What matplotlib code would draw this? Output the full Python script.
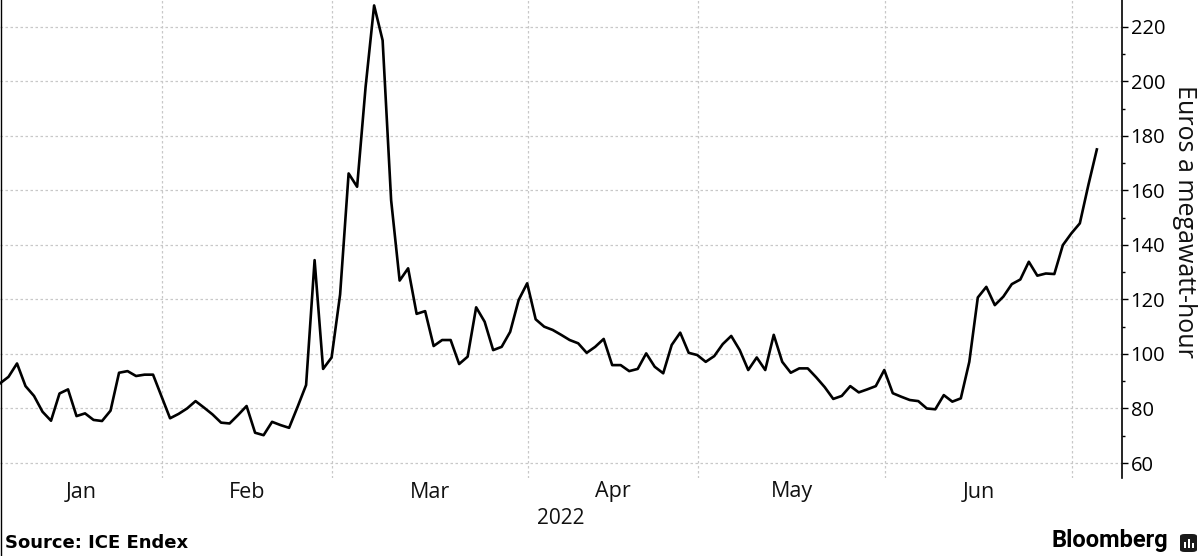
import matplotlib
matplotlib.use("Agg")
import matplotlib.pyplot as plt
import numpy as np
import pandas as pd
from matplotlib.transforms import blended_transform_factory
from matplotlib.patches import FancyBboxPatch, Rectangle
from matplotlib.lines import Line2D

# ---------------- data ----------------
start_date = "2022-01-04"
end_date = "2022-07-05"
holidays = ["2022-04-15"]

prices = [
    89.2, 91.6, 96.5, 88.2, 84.6, 78.8, 75.5, 85.5, 87.0, 77.2,
    78.2, 75.8, 75.4, 79.2, 93.1, 93.7, 91.9, 92.4, 92.4, 84.4,
    76.4, 78.0, 80.0, 82.7, 80.3, 77.8, 74.8, 74.5, 77.6, 80.9,
    71.1, 70.2, 75.1, 73.9, 72.9, 80.6, 88.6, 134.4, 94.5, 98.7,
    121.8, 166.2, 161.3, 198.0, 227.8, 215.0, 156.4, 126.9, 131.4, 114.7,
    115.7, 102.9, 105.1, 105.1, 96.3, 99.0, 117.1, 111.8, 101.4, 102.6,
    108.1, 119.8, 125.9, 112.7, 110.0, 108.8, 107.0, 105.1, 103.9, 100.4,
    102.6, 105.5, 95.9, 95.9, 93.7, 94.5, 100.2, 95.3, 92.9, 103.3,
    107.8, 100.4, 99.6, 97.1, 99.2, 103.6, 106.6, 101.4, 94.1, 98.7,
    94.1, 107.0, 97.1, 93.1, 94.7, 94.7, 91.4, 87.8, 83.5, 84.6,
    88.2, 85.9, 87.0, 88.2, 94.1, 85.6, 84.3, 83.1, 82.7, 80.0,
    79.7, 84.9, 82.5, 83.7, 97.1, 120.7, 124.6, 117.9, 121.0, 125.6,
    127.3, 133.8, 128.7, 129.5, 129.3, 139.9, 144.2, 147.9, 161.9, 175.0,
]

y_ticks = [60, 80, 100, 120, 140, 160, 180, 200, 220]
y_minor = [70, 90, 110, 130, 150, 170, 190, 210]
year_label = "2022"
y_axis_label = "Euros a megawatt-hour"
source_text = "Source: ICE Endex"
brand_text = "Bloomberg"

# ---------------- build ----------------
dates = pd.bdate_range(start_date, end_date)
dates = dates[~dates.isin(pd.to_datetime(holidays))]
x = np.arange(len(dates))

W, H = 1202, 556
fig = plt.figure(figsize=(W / 100, H / 100), dpi=100)
ax = fig.add_axes([0, 78 / H, 1121.5 / W, 478 / H])

ax.plot(x, prices, color="black", lw=1.9, solid_joinstyle="round", zorder=3)

xmin, xmax = 0, 131.9
ax.set_xlim(xmin, xmax)
ax.set_ylim(54.5, 229.8)

# spines
for s in ["left", "top", "bottom"]:
    ax.spines[s].set_visible(False)
ax.spines["right"].set_color("black")
ax.spines["right"].set_linewidth(1.2)

# y axis on right
ax.yaxis.tick_right()
ax.set_yticks(y_ticks)
ax.set_yticks(y_minor, minor=True)
ax.tick_params(axis="y", which="major", length=4.5, width=1.0, direction="out",
               pad=2, labelsize=14.5, colors="black")
ax.tick_params(axis="y", which="minor", length=2.5, width=1.0, direction="out")
for lab in ax.get_yticklabels():
    lab.set_fontfamily("Open Sans")
ax.set_xticks([])

grid_kw = dict(color="#c8c8c8", linestyle=(0, (2, 2)), lw=0.9, zorder=1)
ax.grid(axis="y", which="major", **grid_kw)

# month boundaries from dates
month_first = []
month_names = []
for (yy, mm), grp in pd.Series(x, index=dates).groupby([dates.year, dates.month]):
    month_first.append(grp.iloc[0])
    month_names.append(grp.index[0].strftime("%b"))

bounds = [f - 0.9 for f in month_first]
for b in bounds[1:]:
    ax.axvline(b, **grid_kw)

trans = blended_transform_factory(ax.transData, fig.transFigure)
for k, name in enumerate(month_names):
    lo = max(bounds[k], xmin) if k > 0 else xmin
    hi = min(bounds[k + 1], xmax) if k + 1 < len(bounds) else xmax
    if hi - lo > 10:
        ax.text((lo + hi) / 2, 1 - 492 / H, name, transform=trans, ha="center",
                va="center", fontsize=15.5, family="Open Sans", color="#111111")

fig.text(0.5 * 1121.5 / W, 1 - 518 / H, year_label, ha="center", va="center",
         fontsize=15, family="Open Sans", color="#111111")

fig.text(1185 / W, 1 - 221 / H, y_axis_label, rotation=270, ha="center",
         va="center", fontsize=18, family="Open Sans", color="#111111")

fig.text(5 / W, 1 - 543 / H, source_text, ha="left", va="center",
         fontsize=13, fontweight="bold", family="DejaVu Sans", color="black")

fig.text(1168 / W, 1 - 540 / H, brand_text, ha="right", va="center",
         fontsize=17, fontweight="bold", family="Roboto", color="black")

# brand icon
ix0, iy0, iw, ih = 1180 / W, 1 - 552 / H, 17 / W, 18 / H
icon = FancyBboxPatch((ix0, iy0), iw, ih, boxstyle="round,pad=0,rounding_size=0.004",
                      transform=fig.transFigure, facecolor="#1a1a1a", edgecolor="none")
fig.add_artist(icon)
for bx, bh in [(1184, 6), (1188, 9), (1192, 5)]:
    fig.add_artist(Rectangle((bx / W, 1 - 548 / H), 2 / W, bh / H,
                             transform=fig.transFigure, facecolor="white",
                             edgecolor="none"))

# left border line
fig.add_artist(Line2D([0.6 / W, 0.6 / W], [0, 1], transform=fig.transFigure,
                      color="black", lw=1.0))

fig.savefig("out.png", dpi=100)
